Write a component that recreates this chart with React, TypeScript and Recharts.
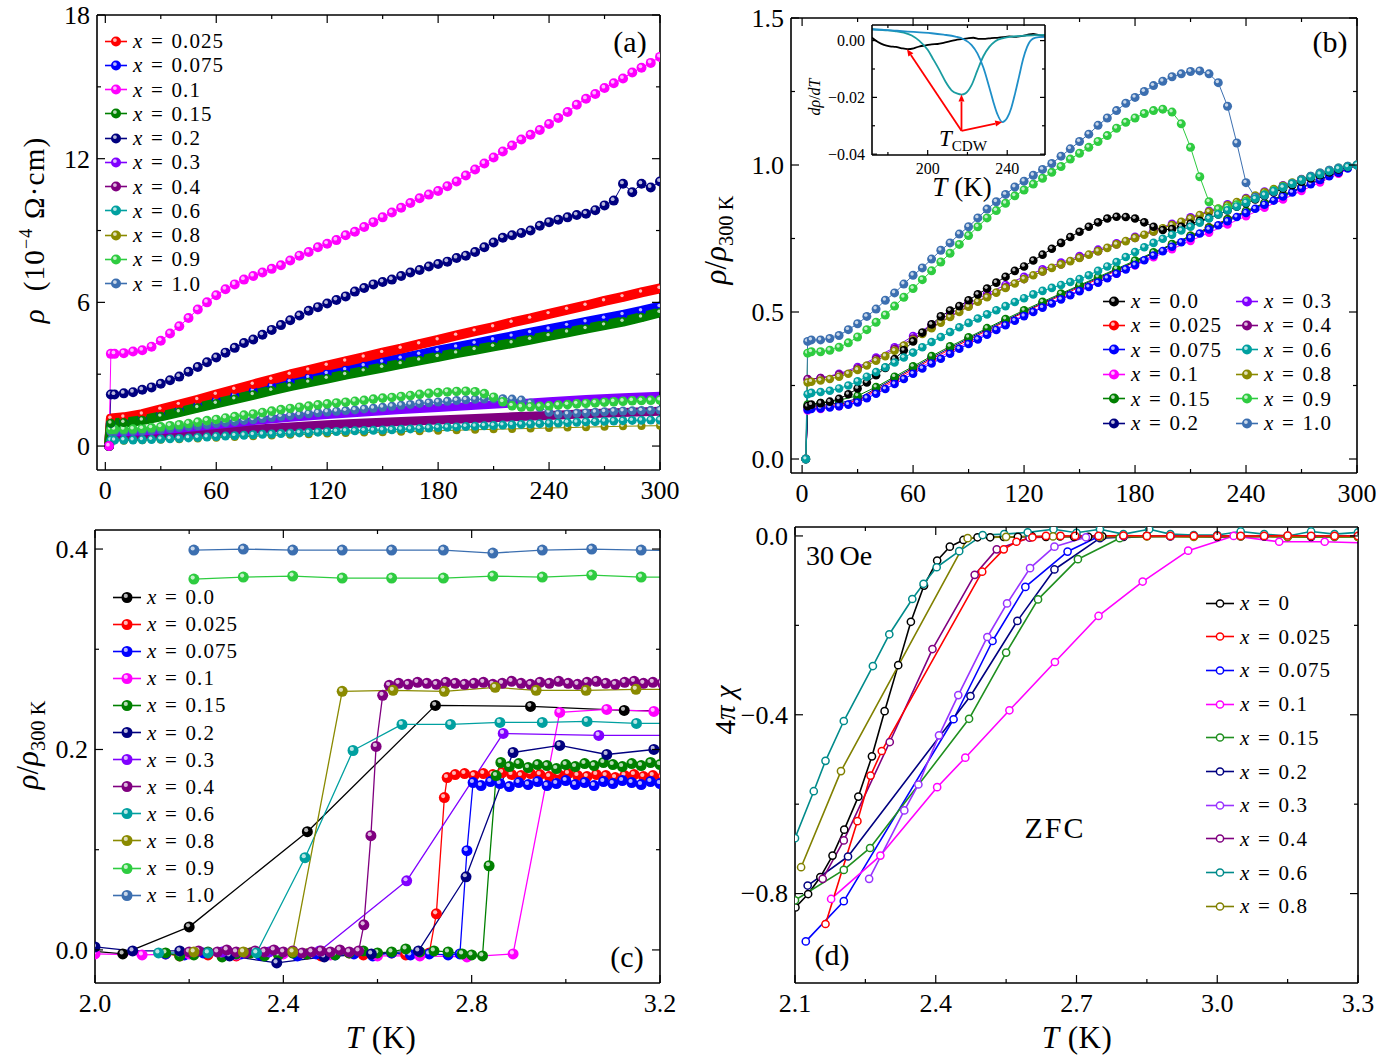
import React from 'react';
import { LineChart, Line, XAxis, YAxis, ReferenceLine } from 'recharts';

const FONT = "'Liberation Serif', 'Times New Roman', serif";

// =============================================================================
// Data: panels (a) and (b), rho(T) from 2 K to 300 K
// =============================================================================

const T5 = [2, 3, 5, 10, 15, 20, 25, 30, 35, 40, 45, 50, 55, 60, 65, 70, 75, 80, 85, 90, 95, 100, 105, 110, 115, 120, 125, 130, 135, 140, 145, 150, 155, 160, 165, 170, 175, 180, 185, 190, 195, 200, 205, 210, 215, 220, 225, 230, 235, 240, 245, 250, 255, 260, 265, 270, 275, 280, 285, 290, 295, 300];
const T10 = [2, 3, 10, 20, 30, 40, 50, 60, 70, 80, 90, 100, 110, 120, 130, 140, 150, 160, 170, 180, 190, 200, 210, 220, 230, 240, 250, 260, 270, 280, 290, 300];
const T20 = [2, 3, 20, 40, 60, 80, 100, 120, 140, 160, 180, 200, 220, 240, 260, 280, 300];

// (a) rho in 1e-4 Ohm cm
const aMag = [0, 3.85, 3.85, 3.88, 3.95, 4.0, 4.15, 4.4, 4.7, 5.0, 5.35, 5.7, 6.0, 6.3, 6.55, 6.75, 6.95, 7.1, 7.25, 7.4, 7.55, 7.75, 7.95, 8.1, 8.3, 8.45, 8.6, 8.8, 8.95, 9.15, 9.35, 9.55, 9.75, 9.95, 10.15, 10.35, 10.5, 10.65, 10.85, 11.05, 11.3, 11.55, 11.8, 12.05, 12.3, 12.55, 12.8, 13.0, 13.2, 13.45, 13.7, 13.95, 14.25, 14.5, 14.7, 14.95, 15.15, 15.35, 15.6, 15.8, 16.0, 16.25];
const aNavy = [0, 2.15, 2.15, 2.2, 2.25, 2.35, 2.45, 2.6, 2.75, 2.9, 3.1, 3.3, 3.5, 3.7, 3.9, 4.1, 4.3, 4.45, 4.65, 4.85, 5.05, 5.25, 5.45, 5.65, 5.8, 5.95, 6.1, 6.25, 6.45, 6.6, 6.75, 6.85, 6.95, 7.1, 7.25, 7.35, 7.5, 7.6, 7.7, 7.85, 7.95, 8.1, 8.3, 8.5, 8.7, 8.8, 8.9, 9.0, 9.2, 9.35, 9.45, 9.55, 9.65, 9.7, 9.85, 10.05, 10.25, 10.95, 10.6, 10.95, 10.8, 11.05];
const aGreen9 = [0, 0.69, 0.7, 0.7, 0.71, 0.73, 0.76, 0.8, 0.85, 0.89, 0.94, 1.0, 1.06, 1.11, 1.17, 1.23, 1.29, 1.34, 1.4, 1.46, 1.52, 1.57, 1.62, 1.67, 1.72, 1.76, 1.8, 1.83, 1.87, 1.91, 1.96, 2.0, 2.03, 2.07, 2.11, 2.16, 2.2, 2.23, 2.26, 2.28, 2.29, 2.27, 2.19, 2.04, 1.85, 1.68, 1.63, 1.64, 1.66, 1.68, 1.71, 1.73, 1.76, 1.78, 1.8, 1.83, 1.85, 1.87, 1.89, 1.9, 1.91, 1.92];
const aBlue1 = [0, 0.6, 0.61, 0.61, 0.62, 0.63, 0.66, 0.69, 0.73, 0.77, 0.81, 0.85, 0.89, 0.94, 0.98, 1.02, 1.07, 1.1, 1.15, 1.19, 1.23, 1.27, 1.31, 1.35, 1.39, 1.42, 1.45, 1.48, 1.51, 1.55, 1.58, 1.62, 1.66, 1.7, 1.74, 1.78, 1.81, 1.84, 1.87, 1.9, 1.93, 1.95, 1.96, 1.97, 1.98, 1.96, 1.92, 1.8, 1.61, 1.41, 1.33, 1.34, 1.37, 1.39, 1.41, 1.43, 1.45, 1.46, 1.47, 1.48, 1.49, 1.5];
const aTeal = [0, 0.24, 0.245, 0.25, 0.253, 0.26, 0.27, 0.29, 0.305, 0.32, 0.34, 0.36, 0.375, 0.395, 0.415, 0.435, 0.45, 0.47, 0.49, 0.505, 0.52, 0.535, 0.55, 0.565, 0.58, 0.595, 0.61, 0.625, 0.635, 0.645, 0.655, 0.667, 0.68, 0.7, 0.715, 0.73, 0.75, 0.77, 0.785, 0.8, 0.815, 0.83, 0.845, 0.86, 0.875, 0.89, 0.905, 0.92, 0.935, 0.95, 0.965, 0.98, 0.995, 1.01, 1.02, 1.035, 1.045, 1.06, 1.07, 1.075, 1.085, 1.09];
const aOlive = [0, 0.22, 0.225, 0.24, 0.26, 0.285, 0.315, 0.345, 0.38, 0.41, 0.44, 0.47, 0.495, 0.52, 0.54, 0.565, 0.58, 0.6, 0.62, 0.64, 0.66, 0.68, 0.7, 0.715, 0.735, 0.755, 0.77, 0.79, 0.81, 0.825, 0.84, 0.85];
const aRed = [0, 1.15, 1.2, 1.33, 1.53, 1.73, 1.93, 2.15, 2.36, 2.57, 2.78, 2.99, 3.17, 3.36, 3.54, 3.71, 3.9, 4.07, 4.26, 4.43, 4.62, 4.8, 4.97, 5.16, 5.33, 5.52, 5.7, 5.87, 6.06, 6.23, 6.42, 6.58];
const aBlue = [0, 0.95, 1.0, 1.12, 1.3, 1.5, 1.7, 1.9, 2.1, 2.3, 2.5, 2.68, 2.85, 3.02, 3.18, 3.34, 3.5, 3.66, 3.82, 3.98, 4.13, 4.28, 4.43, 4.58, 4.73, 4.88, 5.03, 5.18, 5.33, 5.48, 5.64, 5.82];
const aGreen = [0, 0.95, 0.98, 1.08, 1.24, 1.42, 1.6, 1.78, 1.96, 2.14, 2.32, 2.5, 2.66, 2.82, 2.98, 3.13, 3.28, 3.43, 3.58, 3.73, 3.88, 4.02, 4.16, 4.3, 4.45, 4.6, 4.75, 4.9, 5.05, 5.2, 5.38, 5.58];
const aViolet = [0, 0.57, 0.61, 0.72, 0.88, 1.04, 1.18, 1.3, 1.4, 1.5, 1.59, 1.68, 1.77, 1.87, 1.96, 2.04, 2.1];
const aPurple = [0, 0.39, 0.42, 0.49, 0.6, 0.7, 0.8, 0.89, 0.96, 1.03, 1.09, 1.15, 1.22, 1.28, 1.35, 1.4, 1.45];

// (b) rho / rho(300 K)
const bBlue1 = [0, 0.4, 0.405, 0.405, 0.41, 0.42, 0.44, 0.46, 0.485, 0.51, 0.54, 0.565, 0.595, 0.625, 0.65, 0.68, 0.71, 0.735, 0.765, 0.79, 0.82, 0.85, 0.875, 0.9, 0.925, 0.945, 0.965, 0.985, 1.005, 1.03, 1.055, 1.08, 1.105, 1.135, 1.16, 1.185, 1.21, 1.23, 1.25, 1.27, 1.285, 1.3, 1.31, 1.318, 1.32, 1.31, 1.28, 1.2, 1.075, 0.94, 0.89, 0.897, 0.91, 0.924, 0.937, 0.95, 0.962, 0.973, 0.982, 0.99, 0.996, 1.0];
const bGreen9 = [0, 0.36, 0.365, 0.365, 0.37, 0.38, 0.395, 0.415, 0.44, 0.465, 0.49, 0.52, 0.55, 0.58, 0.61, 0.64, 0.67, 0.7, 0.73, 0.76, 0.79, 0.82, 0.845, 0.87, 0.895, 0.915, 0.935, 0.955, 0.975, 0.995, 1.02, 1.04, 1.06, 1.08, 1.1, 1.125, 1.145, 1.16, 1.175, 1.185, 1.19, 1.18, 1.14, 1.06, 0.96, 0.875, 0.85, 0.855, 0.865, 0.877, 0.89, 0.9, 0.913, 0.926, 0.938, 0.95, 0.962, 0.973, 0.982, 0.99, 0.996, 1.0];
const bBlack = [0, 0.18, 0.185, 0.19, 0.195, 0.205, 0.22, 0.24, 0.26, 0.285, 0.31, 0.34, 0.37, 0.4, 0.43, 0.458, 0.485, 0.505, 0.52, 0.54, 0.56, 0.58, 0.6, 0.62, 0.64, 0.655, 0.675, 0.695, 0.715, 0.735, 0.755, 0.773, 0.79, 0.805, 0.818, 0.824, 0.823, 0.818, 0.805, 0.79, 0.779, 0.782, 0.79, 0.8, 0.81, 0.82, 0.832, 0.845, 0.858, 0.87, 0.883, 0.895, 0.907, 0.919, 0.931, 0.943, 0.954, 0.965, 0.975, 0.985, 0.993, 1.0];
const bOlive = [0, 0.26, 0.263, 0.267, 0.272, 0.28, 0.29, 0.303, 0.318, 0.334, 0.35, 0.368, 0.386, 0.405, 0.425, 0.445, 0.464, 0.483, 0.5, 0.518, 0.535, 0.55, 0.566, 0.582, 0.597, 0.612, 0.625, 0.638, 0.65, 0.662, 0.673, 0.684, 0.695, 0.707, 0.718, 0.73, 0.741, 0.752, 0.763, 0.774, 0.785, 0.796, 0.807, 0.818, 0.83, 0.841, 0.852, 0.863, 0.874, 0.885, 0.896, 0.907, 0.918, 0.929, 0.94, 0.951, 0.961, 0.971, 0.98, 0.988, 0.995, 1.0];
const bTeal = [0, 0.22, 0.225, 0.228, 0.232, 0.24, 0.25, 0.264, 0.28, 0.296, 0.312, 0.328, 0.345, 0.362, 0.38, 0.398, 0.415, 0.432, 0.448, 0.463, 0.478, 0.492, 0.506, 0.52, 0.534, 0.547, 0.56, 0.572, 0.582, 0.592, 0.602, 0.612, 0.625, 0.64, 0.655, 0.67, 0.687, 0.704, 0.72, 0.735, 0.749, 0.763, 0.777, 0.79, 0.804, 0.818, 0.832, 0.846, 0.859, 0.872, 0.885, 0.898, 0.911, 0.924, 0.936, 0.948, 0.959, 0.969, 0.979, 0.987, 0.994, 1.0];
const bBlue = [0, 0.168, 0.17, 0.172, 0.175, 0.18, 0.185, 0.192, 0.207, 0.222, 0.238, 0.255, 0.272, 0.29, 0.308, 0.325, 0.341, 0.358, 0.375, 0.391, 0.407, 0.423, 0.439, 0.455, 0.47, 0.486, 0.5, 0.515, 0.529, 0.543, 0.557, 0.571, 0.585, 0.6, 0.615, 0.63, 0.645, 0.66, 0.676, 0.692, 0.707, 0.722, 0.737, 0.752, 0.767, 0.781, 0.795, 0.809, 0.823, 0.837, 0.851, 0.865, 0.879, 0.893, 0.907, 0.921, 0.935, 0.949, 0.962, 0.975, 0.988, 1.0];
const bRed = [0, 0.175, 0.178, 0.185, 0.2, 0.235, 0.27, 0.305, 0.34, 0.373, 0.405, 0.437, 0.468, 0.499, 0.528, 0.556, 0.584, 0.612, 0.641, 0.67, 0.7, 0.73, 0.759, 0.788, 0.816, 0.843, 0.87, 0.897, 0.924, 0.95, 0.975, 1.0];
const bMag = [0, 0.165, 0.17, 0.18, 0.196, 0.23, 0.264, 0.298, 0.332, 0.365, 0.397, 0.428, 0.459, 0.489, 0.518, 0.546, 0.574, 0.602, 0.63, 0.658, 0.686, 0.714, 0.742, 0.77, 0.798, 0.826, 0.855, 0.883, 0.912, 0.941, 0.97, 1.0];
const bGreen = [0, 0.185, 0.19, 0.2, 0.215, 0.245, 0.28, 0.315, 0.35, 0.383, 0.414, 0.445, 0.476, 0.506, 0.535, 0.563, 0.591, 0.619, 0.647, 0.675, 0.703, 0.731, 0.759, 0.787, 0.815, 0.843, 0.871, 0.898, 0.925, 0.951, 0.976, 1.0];
const bNavy = [0, 0.178, 0.182, 0.19, 0.205, 0.24, 0.275, 0.31, 0.345, 0.378, 0.41, 0.441, 0.472, 0.502, 0.531, 0.56, 0.588, 0.616, 0.644, 0.672, 0.7, 0.728, 0.756, 0.784, 0.812, 0.84, 0.868, 0.896, 0.923, 0.95, 0.975, 1.0];
const bViolet = [0, 0.27, 0.275, 0.29, 0.313, 0.345, 0.38, 0.418, 0.457, 0.494, 0.529, 0.562, 0.592, 0.62, 0.645, 0.668, 0.69, 0.712, 0.734, 0.756, 0.778, 0.8, 0.822, 0.844, 0.866, 0.888, 0.91, 0.931, 0.952, 0.972, 0.987, 1.0];
const bPurple = [0, 0.272, 0.275, 0.287, 0.308, 0.34, 0.374, 0.41, 0.448, 0.485, 0.52, 0.553, 0.584, 0.612, 0.638, 0.662, 0.685, 0.707, 0.73, 0.752, 0.774, 0.796, 0.818, 0.84, 0.862, 0.884, 0.906, 0.928, 0.95, 0.97, 0.986, 1.0];

// inset of (b): d rho / dT
const insBlackT = [172, 175, 178, 181, 184, 187, 190, 193, 196, 199, 202, 205, 208, 211, 214, 217, 220, 223, 226, 229, 232, 235, 238, 241, 244, 247, 250, 253, 256, 259];
const insBlack = [0.001, -0.0005, -0.0015, -0.002, -0.0022, -0.0027, -0.003, -0.0027, -0.002, -0.0017, -0.0013, -0.0012, -0.0008, -0.0003, 0.0002, 0.0005, 0.0008, 0.001, 0.0006, 0.0006, 0.0009, 0.001, 0.0012, 0.0015, 0.0013, 0.0016, 0.002, 0.0024, 0.0019, 0.0015];
const insTealT = [172, 176, 180, 184, 188, 192, 196, 200, 203, 206, 209, 212, 215, 217, 219, 222, 225, 228, 231, 234, 238, 242, 246, 250, 254, 259];
const insTeal = [0.004, 0.0038, 0.0036, 0.0033, 0.0028, 0.0018, -0.0002, -0.0032, -0.0068, -0.0105, -0.0145, -0.0175, -0.0187, -0.019, -0.0186, -0.0158, -0.0105, -0.0055, -0.0022, -0.0002, 0.0009, 0.0014, 0.0016, 0.0018, 0.0019, 0.002];
const insBlueT = [172, 178, 184, 190, 196, 202, 208, 214, 218, 222, 225, 228, 231, 233, 235, 237.5, 240, 242, 244, 246, 248, 250, 253, 256, 259];
const insBlue = [0.004, 0.0038, 0.0035, 0.0032, 0.0029, 0.0026, 0.0021, 0.0014, 0.0005, -0.0015, -0.0045, -0.0095, -0.0165, -0.0215, -0.0258, -0.0287, -0.0272, -0.0238, -0.0185, -0.0125, -0.0065, -0.0022, 0.0007, 0.0012, 0.0013];
const cdwFromT = 217;
const cdwFromV = -0.0318;
const cdwMinT = [189.6, 217, 237.5];
const cdwMinV = [-0.003, -0.019, -0.0287];

// =============================================================================
// Data: panel (c), rho / rho(300 K) near Tc
// =============================================================================

const cBlackT = [1.9, 2.059, 2.2, 2.451, 2.723, 2.925, 3.124, 3.33];
const cBlack = [0.003, -0.004, 0.023, 0.118, 0.244, 0.243, 0.239, 0.238];
const cRedT = [2.15, 2.18, 2.21, 2.24, 2.27, 2.3, 2.33, 2.36, 2.39, 2.42, 2.45, 2.48, 2.51, 2.54, 2.57, 2.6, 2.63, 2.66, 2.69, 2.71, 2.725, 2.742, 2.748, 2.765, 2.785, 2.805, 2.825, 2.845, 2.865, 2.885, 2.905, 2.925, 2.945, 2.965, 2.985, 3.005, 3.025, 3.045, 3.065, 3.085, 3.105, 3.125, 3.145, 3.165, 3.185, 3.205];
const cRed = [-0.004, -0.006, -0.003, -0.005, -0.004, -0.006, -0.003, -0.004, -0.005, -0.003, -0.004, -0.006, -0.004, -0.003, -0.005, -0.004, -0.003, -0.005, -0.004, -0.003, 0.036, 0.152, 0.172, 0.175, 0.176, 0.174, 0.176, 0.175, 0.177, 0.175, 0.174, 0.176, 0.175, 0.173, 0.175, 0.176, 0.174, 0.173, 0.175, 0.174, 0.172, 0.174, 0.175, 0.173, 0.174, 0.172];
const cBlueT = [2.15, 2.19, 2.23, 2.27, 2.31, 2.35, 2.39, 2.43, 2.47, 2.51, 2.55, 2.59, 2.63, 2.67, 2.71, 2.75, 2.775, 2.79, 2.803, 2.82, 2.84, 2.86, 2.88, 2.9, 2.92, 2.94, 2.96, 2.98, 3.0, 3.02, 3.04, 3.06, 3.08, 3.1, 3.12, 3.14, 3.16, 3.18, 3.2];
const cBlue = [-0.004, -0.005, -0.003, -0.006, -0.004, -0.005, -0.003, -0.006, -0.004, -0.005, -0.004, -0.006, -0.003, -0.005, -0.004, -0.005, -0.004, 0.099, 0.167, 0.164, 0.168, 0.166, 0.163, 0.167, 0.165, 0.168, 0.164, 0.166, 0.169, 0.165, 0.167, 0.164, 0.168, 0.166, 0.169, 0.167, 0.165, 0.168, 0.166];
const cMagT = [1.95, 2.0, 2.1, 2.2, 2.3, 2.4, 2.5, 2.6, 2.69, 2.79, 2.888, 2.987, 3.087, 3.187, 3.29];
const cMag = [-0.004, -0.004, -0.005, -0.004, -0.005, -0.004, -0.005, -0.006, -0.006, -0.007, -0.004, 0.237, 0.24, 0.238, 0.238];
const cGreenT = [2.15, 2.18, 2.21, 2.24, 2.27, 2.3, 2.33, 2.36, 2.39, 2.42, 2.45, 2.48, 2.51, 2.54, 2.57, 2.6, 2.63, 2.66, 2.69, 2.72, 2.75, 2.78, 2.8, 2.823, 2.837, 2.852, 2.862, 2.88, 2.9, 2.92, 2.94, 2.96, 2.98, 3.0, 3.02, 3.04, 3.06, 3.08, 3.1, 3.12, 3.14, 3.16, 3.18, 3.2];
const cGreen = [-0.003, -0.006, -0.005, -0.002, -0.007, -0.004, -0.003, -0.006, -0.005, -0.003, -0.004, -0.002, -0.005, -0.003, -0.001, -0.003, -0.002, 0.001, -0.002, -0.001, -0.002, -0.004, -0.005, -0.006, 0.084, 0.174, 0.187, 0.183, 0.186, 0.182, 0.185, 0.184, 0.181, 0.185, 0.183, 0.186, 0.184, 0.187, 0.185, 0.183, 0.186, 0.184, 0.187, 0.185];
const cNavyT = [2.0, 2.08, 2.18, 2.286, 2.386, 2.487, 2.587, 2.687, 2.788, 2.888, 2.987, 3.087, 3.187, 3.29];
const cNavy = [0.003, -0.001, -0.001, -0.006, -0.013, -0.007, -0.004, -0.001, 0.073, 0.197, 0.204, 0.195, 0.2, 0.2];
const cVioletT = [2.27, 2.37, 2.477, 2.662, 2.867, 3.07, 3.27];
const cViolet = [-0.002, -0.002, -0.001, 0.069, 0.216, 0.214, 0.214];
const cPurpleT = [2.2, 2.22, 2.24, 2.26, 2.28, 2.3, 2.32, 2.34, 2.36, 2.38, 2.4, 2.42, 2.44, 2.46, 2.48, 2.5, 2.52, 2.54, 2.56, 2.571, 2.586, 2.597, 2.611, 2.625, 2.645, 2.665, 2.685, 2.705, 2.725, 2.745, 2.765, 2.785, 2.805, 2.825, 2.845, 2.865, 2.885, 2.905, 2.925, 2.945, 2.965, 2.985, 3.005, 3.025, 3.045, 3.065, 3.085, 3.105, 3.125, 3.145, 3.165, 3.185, 3.205];
const cPurple = [-0.002, -0.001, -0.003, -0.002, 0.0, -0.002, -0.003, -0.001, -0.002, 0.0, -0.002, -0.001, -0.003, -0.002, -0.001, -0.002, 0.0, -0.002, -0.001, 0.025, 0.114, 0.203, 0.254, 0.264, 0.266, 0.265, 0.267, 0.266, 0.265, 0.267, 0.266, 0.265, 0.266, 0.267, 0.265, 0.266, 0.268, 0.266, 0.265, 0.267, 0.266, 0.268, 0.266, 0.265, 0.267, 0.268, 0.266, 0.265, 0.267, 0.268, 0.266, 0.267, 0.266];
const cTealT = [2.135, 2.24, 2.343, 2.446, 2.548, 2.652, 2.755, 2.86, 2.95, 3.045, 3.15, 3.26];
const cTeal = [-0.003, -0.003, -0.003, 0.092, 0.199, 0.225, 0.225, 0.227, 0.227, 0.228, 0.226, 0.226];
const cOliveT = [2.21, 2.315, 2.42, 2.525, 2.633, 2.742, 2.85, 2.937, 3.043, 3.149, 3.26];
const cOlive = [-0.002, -0.002, -0.002, 0.258, 0.259, 0.258, 0.262, 0.259, 0.259, 0.26, 0.26];
const cHighT = [2.21, 2.315, 2.42, 2.525, 2.63, 2.74, 2.845, 2.95, 3.055, 3.16, 3.265];
const cGreen9 = [0.37, 0.372, 0.373, 0.371, 0.371, 0.371, 0.373, 0.372, 0.374, 0.372, 0.372];
const cBlue1 = [0.399, 0.4, 0.399, 0.399, 0.399, 0.399, 0.396, 0.399, 0.4, 0.399, 0.398];

// =============================================================================
// Data: panel (d), ZFC susceptibility 4 pi chi
// =============================================================================

const dBlackT = [2.101, 2.128, 2.154, 2.18, 2.205, 2.235, 2.264, 2.291, 2.32, 2.347, 2.375, 2.403, 2.43, 2.459, 2.489, 2.516, 2.545, 2.575, 2.605, 2.635, 2.665, 2.695, 2.725, 2.755, 2.8, 2.9, 3.0, 3.1, 3.2, 3.3];
const dBlack = [-0.831, -0.801, -0.763, -0.715, -0.657, -0.583, -0.493, -0.392, -0.289, -0.192, -0.111, -0.055, -0.024, -0.009, -0.003, -0.003, -0.002, -0.002, -0.001, -0.002, -0.001, -0.002, -0.002, -0.001, -0.002, -0.001, -0.002, -0.001, -0.002, -0.001];
const dRedT = [2.165, 2.233, 2.261, 2.285, 2.499, 2.545, 2.572, 2.606, 2.635, 2.666, 2.697, 2.747, 2.8, 2.85, 2.9, 2.95, 3.0, 3.05, 3.1, 3.15, 3.2, 3.25, 3.3];
const dRed = [-0.868, -0.638, -0.536, -0.481, -0.08, -0.03, -0.013, -0.003, 0.0, 0.0, 0.0, 0.0, 0.001, 0.0, 0.0, 0.0, 0.0, 0.0, 0.0, 0.001, 0.0, 0.0, 0.0];
const dBlueT = [2.123, 2.204, 2.438, 2.521, 2.591, 2.681, 2.746, 2.8, 2.9, 3.0, 3.1, 3.2, 3.3];
const dBlue = [-0.907, -0.817, -0.41, -0.235, -0.114, -0.035, -0.002, 0.0, 0.0, 0.0, 0.0, 0.0, 0.0];
const dMagT = [2.177, 2.282, 2.403, 2.463, 2.557, 2.654, 2.747, 2.841, 2.938, 3.035, 3.132, 3.229, 3.33];
const dMag = [-0.812, -0.715, -0.562, -0.496, -0.39, -0.282, -0.179, -0.102, -0.033, 0.0, -0.013, -0.013, -0.016];
const dGreenT = [2.06, 2.1, 2.204, 2.26, 2.471, 2.55, 2.618, 2.703, 2.792, 2.85, 2.95, 3.05, 3.15, 3.25, 3.3];
const dGreen = [-0.835, -0.815, -0.747, -0.698, -0.409, -0.261, -0.142, -0.052, -0.005, 0.0, 0.0, 0.0, -0.002, -0.002, -0.002];
const dNavyT = [2.127, 2.213, 2.474, 2.574, 2.653, 2.75, 2.85, 2.95, 3.05, 3.15, 3.25, 3.3];
const dNavy = [-0.782, -0.717, -0.358, -0.19, -0.075, -0.005, 0.0, 0.0, -0.001, 0.0, 0.0, 0.0];
const dVioletT = [2.258, 2.333, 2.363, 2.407, 2.448, 2.51, 2.552, 2.601, 2.653, 2.72, 2.8, 2.9, 3.0, 3.1, 3.2, 3.3];
const dViolet = [-0.767, -0.614, -0.556, -0.446, -0.356, -0.226, -0.151, -0.072, -0.024, -0.003, 0.0, 0.0, 0.0, 0.0, 0.0, 0.0];
const dPurpleT = [2.159, 2.204, 2.302, 2.393, 2.483, 2.53, 2.6, 2.7, 2.8, 2.9, 3.0, 3.1, 3.2, 3.3];
const dPurple = [-0.767, -0.681, -0.461, -0.253, -0.087, -0.03, -0.004, 0.0, 0.0, 0.0, 0.0, 0.0, 0.0, 0.0];
const dTealT = [2.062, 2.1, 2.14, 2.165, 2.204, 2.266, 2.301, 2.35, 2.374, 2.402, 2.45, 2.5, 2.546, 2.596, 2.651, 2.7, 2.75, 2.8, 2.855, 2.9, 2.95, 3.0, 3.05, 3.1, 3.15, 3.2, 3.25, 3.3];
const dTeal = [-0.775, -0.676, -0.571, -0.503, -0.414, -0.291, -0.22, -0.141, -0.107, -0.07, -0.034, 0.002, 0.004, 0.008, 0.015, 0.007, 0.015, 0.004, 0.015, 0.004, 0.002, 0.002, 0.01, 0.004, 0.0, 0.01, 0.004, 0.008];
const dOliveT = [2.113, 2.198, 2.468, 2.55, 2.65, 2.75, 2.85, 2.95, 3.05, 3.15, 3.25, 3.3];
const dOlive = [-0.741, -0.526, -0.005, -0.002, -0.001, -0.002, -0.001, -0.002, -0.001, -0.002, -0.001, -0.002];

// =============================================================================
// Styling
// =============================================================================

const COL: Record<string, string> = {
  '0.0': '#000000', '0.025': '#ff0000', '0.075': '#0000ff', '0.1': '#ff00ff',
  '0.15': '#008000', '0.2': '#000080', '0.3': '#8000ff', '0.4': '#800080',
  '0.6': '#00a0a0', '0.8': '#8a8a00', '0.9': '#2ecc40', '1.0': '#3c6fb0',
};
const COLD: Record<string, string> = {
  '0': '#000000', '0.025': '#ff0000', '0.075': '#0000ff', '0.1': '#ff00ff',
  '0.15': '#1f8f1f', '0.2': '#000080', '0.3': '#9933ff', '0.4': '#800080',
  '0.6': '#008b8b', '0.8': '#808000',
};

const rows = (T: number[], v: number[]) => T.map((t, i) => ({ T: t, v: v[i] }));
const AX = { stroke: '#000', strokeWidth: 1.6 };

type Ser = { k: string; T: number[]; v: number[]; color: string; kind: 'bead' | 'band' | 'open' | 'smooth'; r?: number; w?: number };

function Ball({ cx, cy, r, color }: any) {
  if (cx == null || cy == null || isNaN(cx) || isNaN(cy)) return <g />;
  return (
    <g>
      <circle cx={cx} cy={cy} r={r} fill={color} />
      <circle cx={cx - r * 0.22} cy={cy - r * 0.28} r={r * 0.38} fill="#fff" fillOpacity={0.72} />
    </g>
  );
}

function mkTick(side: string, majors: number[], fmt: ((v: number) => string) | null, fs: number, big = 8, small = 4) {
  return (p: any) => {
    const { x, y, payload } = p;
    const v = payload ? payload.value : 0;
    const major = majors.some((m) => Math.abs(m - v) < 1e-9);
    const L = major ? big : small;
    let x2 = x;
    let y2 = y;
    let label = null;
    if (side === 'bottom') {
      y2 = y - L;
      if (fmt && major) label = <text x={x} y={y + fs + 3} textAnchor="middle" fontSize={fs} fontFamily={FONT} fill="#000">{fmt(v)}</text>;
    } else if (side === 'top') {
      y2 = y + L;
    } else if (side === 'left') {
      x2 = x + L;
      if (fmt && major) label = <text x={x - 7} y={y + fs * 0.34} textAnchor="end" fontSize={fs} fontFamily={FONT} fill="#000">{fmt(v)}</text>;
    } else {
      x2 = x - L;
    }
    return (
      <g>
        <line x1={x} y1={y} x2={x2} y2={y2} stroke="#000" strokeWidth={1.2} />
        {label}
      </g>
    );
  };
}

function renderSeries(s: Ser) {
  const common = {
    key: s.k, xAxisId: 'b', yAxisId: 'l', data: rows(s.T, s.v), dataKey: 'v', type: 'linear' as const,
    stroke: s.color, activeDot: false, isAnimationActive: false, strokeLinejoin: 'round' as const, strokeLinecap: 'round' as const,
  };
  if (s.kind === 'band') {
    return <Line {...common} strokeWidth={s.w || 9} dot={s.r ? (p: any) => <Ball key={p.index} cx={p.cx} cy={p.cy} r={s.r} color={s.color} /> : false} />;
  }
  if (s.kind === 'open') {
    return <Line {...common} strokeWidth={1.6} dot={{ r: 3.6, fill: '#fff', stroke: s.color, strokeWidth: 1.5 }} />;
  }
  if (s.kind === 'smooth') {
    return <Line {...common} type="monotone" strokeWidth={1.8} dot={false} />;
  }
  return <Line {...common} strokeWidth={s.w || 1} dot={(p: any) => <Ball key={p.index} cx={p.cx} cy={p.cy} r={s.r || 4.5} color={s.color} />} />;
}

// margin is the wanted plot box; each axis takes a 1px band outside it
function Panel({ width, height, margin, xDom, yDom, xMaj, xMin, yMaj, yMin, xFmt, yFmt, series, fs = 26, big = 8, small = 4, children }: any) {
  const xt = [...xMaj, ...xMin].sort((a: number, b: number) => a - b);
  const yt = [...yMaj, ...yMin].sort((a: number, b: number) => a - b);
  const m = { top: margin.top - 1, right: margin.right - 1, bottom: margin.bottom - 1, left: margin.left - 1 };
  const axisCommon = { type: 'number' as const, allowDataOverflow: true, interval: 0 as const, tickSize: 0, tickMargin: 0, tickLine: false, axisLine: AX };
  return (
    <LineChart width={width} height={height} margin={m}>
      <XAxis {...axisCommon} xAxisId="b" orientation="bottom" dataKey="T" domain={xDom} ticks={xt} height={1} tick={mkTick('bottom', xMaj, xFmt, fs, big, small)} />
      <XAxis {...axisCommon} xAxisId="t" orientation="top" dataKey="T" domain={xDom} ticks={xt} height={1} tick={mkTick('top', xMaj, null, fs, big, small)} />
      <YAxis {...axisCommon} yAxisId="l" orientation="left" domain={yDom} ticks={yt} width={1} tick={mkTick('left', yMaj, yFmt, fs, big, small)} />
      <YAxis {...axisCommon} yAxisId="r" orientation="right" domain={yDom} ticks={yt} width={1} tick={mkTick('right', yMaj, null, fs, big, small)} />
      {series.map((s: Ser) => renderSeries(s))}
      {children}
    </LineChart>
  );
}

function Arrow(p: any) {
  const { x1, y1, x2, y2 } = p;
  if ([x1, y1, x2, y2].some((q) => q == null || isNaN(q))) return <g />;
  const a = Math.atan2(y2 - y1, x2 - x1);
  const h = 7;
  const w = 3;
  const bx = x2 - h * Math.cos(a);
  const by = y2 - h * Math.sin(a);
  const pts = `${x2},${y2} ${bx - w * Math.sin(a)},${by + w * Math.cos(a)} ${bx + w * Math.sin(a)},${by - w * Math.cos(a)}`;
  return (
    <g>
      <line x1={x1} y1={y1} x2={bx} y2={by} stroke="#ff0000" strokeWidth={1.8} />
      <polygon points={pts} fill="#ff0000" />
    </g>
  );
}

function Txt({ x, y, size, rotate = 0, align = 'center', spacing = 0, children }: any) {
  const tx = align === 'center' ? '-50%' : align === 'left' ? '0%' : '-100%';
  return (
    <div style={{ position: 'absolute', left: x, top: y, fontSize: size, lineHeight: 1, whiteSpace: 'nowrap', letterSpacing: spacing, transform: `translate(${tx}, -50%) rotate(${rotate}deg)` }}>
      {children}
    </div>
  );
}

function LegendCol({ items, x, y0, dy, fs, lineLen, open = false, r = 5 }: any) {
  return (
    <>
      {items.map((it: any, i: number) => (
        <div key={it.k} style={{ position: 'absolute', left: x, top: y0 + i * dy, transform: 'translateY(-50%)', display: 'flex', alignItems: 'center', whiteSpace: 'nowrap', fontSize: fs, lineHeight: 1 }}>
          <svg width={lineLen} height={16} style={{ overflow: 'visible' }}>
            <line x1={0} y1={8} x2={lineLen} y2={8} stroke={it.color} strokeWidth={1.6} />
            {open
              ? <circle cx={lineLen / 2} cy={8} r={3.6} fill="#fff" stroke={it.color} strokeWidth={1.5} />
              : <Ball cx={lineLen / 2} cy={8} r={r} color={it.color} />}
          </svg>
          <span style={{ marginLeft: 6, letterSpacing: 1.1 }}>
            <i>x</i><span style={{ margin: '0 0.36em' }}>=</span>{it.k}
          </span>
        </div>
      ))}
    </>
  );
}

const sup = { fontSize: '0.62em', verticalAlign: '0.7em' };
const sub = { fontSize: '0.66em', verticalAlign: '-0.35em' };

// =============================================================================
// App
// =============================================================================

export default function App() {
  const c = (k: string) => COL[k];

  const serA: Ser[] = [
    { k: '0.4', T: T20, v: aPurple, color: c('0.4'), kind: 'band', w: 9 },
    { k: '0.3', T: T20, v: aViolet, color: c('0.3'), kind: 'band', w: 8 },
    { k: '0.8', T: T10, v: aOlive, color: c('0.8'), kind: 'bead', r: 4 },
    { k: '1.0', T: T5, v: aBlue1, color: c('1.0'), kind: 'bead', r: 4.5 },
    { k: '0.6', T: T5, v: aTeal, color: c('0.6'), kind: 'bead', r: 4.5 },
    { k: '0.9', T: T5, v: aGreen9, color: c('0.9'), kind: 'bead', r: 4.8 },
    { k: '0.075', T: T10, v: aBlue, color: c('0.075'), kind: 'band', w: 10, r: 4.5 },
    { k: '0.025', T: T10, v: aRed, color: c('0.025'), kind: 'band', w: 10, r: 4.5 },
    { k: '0.15', T: T10, v: aGreen, color: c('0.15'), kind: 'band', w: 10, r: 4.5 },
    { k: '0.2', T: T5, v: aNavy, color: c('0.2'), kind: 'bead', r: 5 },
    { k: '0.1', T: T5, v: aMag, color: c('0.1'), kind: 'bead', r: 5 },
  ];
  const legA = ['0.025', '0.075', '0.1', '0.15', '0.2', '0.3', '0.4', '0.6', '0.8', '0.9', '1.0'].map((k) => ({ k, color: c(k) }));

  const serB: Ser[] = [
    { k: '0.1', T: T10, v: bMag, color: c('0.1'), kind: 'bead', r: 4.3 },
    { k: '0.025', T: T10, v: bRed, color: c('0.025'), kind: 'bead', r: 4.3 },
    { k: '0.2', T: T10, v: bNavy, color: c('0.2'), kind: 'bead', r: 4.3 },
    { k: '0.15', T: T10, v: bGreen, color: c('0.15'), kind: 'bead', r: 4.3 },
    { k: '0.075', T: T5, v: bBlue, color: c('0.075'), kind: 'bead', r: 4.3 },
    { k: '0.3', T: T10, v: bViolet, color: c('0.3'), kind: 'bead', r: 4.3 },
    { k: '0.4', T: T10, v: bPurple, color: c('0.4'), kind: 'bead', r: 4.3 },
    { k: '0.8', T: T5, v: bOlive, color: c('0.8'), kind: 'bead', r: 4.3 },
    { k: '0.0', T: T5, v: bBlack, color: c('0.0'), kind: 'bead', r: 4.3 },
    { k: '0.9', T: T5, v: bGreen9, color: c('0.9'), kind: 'bead', r: 4.5 },
    { k: '1.0', T: T5, v: bBlue1, color: c('1.0'), kind: 'bead', r: 4.5 },
    { k: '0.6', T: T5, v: bTeal, color: c('0.6'), kind: 'bead', r: 4.3 },
  ];
  const legB1 = ['0.0', '0.025', '0.075', '0.1', '0.15', '0.2'].map((k) => ({ k, color: c(k) }));
  const legB2 = ['0.3', '0.4', '0.6', '0.8', '0.9', '1.0'].map((k) => ({ k, color: c(k) }));

  const serIns: Ser[] = [
    { k: 'blk', T: insBlackT, v: insBlack, color: '#000000', kind: 'smooth' },
    { k: 'teal', T: insTealT, v: insTeal, color: '#1a9ca0', kind: 'smooth' },
    { k: 'blue', T: insBlueT, v: insBlue, color: '#1f8fc8', kind: 'smooth' },
  ];

  const serC: Ser[] = [
    { k: '0.0', T: cBlackT, v: cBlack, color: c('0.0'), kind: 'bead', r: 5.5, w: 1.3 },
    { k: '0.025', T: cRedT, v: cRed, color: c('0.025'), kind: 'bead', r: 5.5, w: 1.3 },
    { k: '0.075', T: cBlueT, v: cBlue, color: c('0.075'), kind: 'bead', r: 5.5, w: 1.3 },
    { k: '0.1', T: cMagT, v: cMag, color: c('0.1'), kind: 'bead', r: 5.5, w: 1.3 },
    { k: '0.15', T: cGreenT, v: cGreen, color: c('0.15'), kind: 'bead', r: 5.5, w: 1.3 },
    { k: '0.2', T: cNavyT, v: cNavy, color: c('0.2'), kind: 'bead', r: 5.5, w: 1.3 },
    { k: '0.3', T: cVioletT, v: cViolet, color: c('0.3'), kind: 'bead', r: 5.5, w: 1.3 },
    { k: '0.4', T: cPurpleT, v: cPurple, color: c('0.4'), kind: 'bead', r: 5.5, w: 1.3 },
    { k: '0.6', T: cTealT, v: cTeal, color: c('0.6'), kind: 'bead', r: 5.5, w: 1.3 },
    { k: '0.8', T: cOliveT, v: cOlive, color: c('0.8'), kind: 'bead', r: 5.5, w: 1.3 },
    { k: '0.9', T: cHighT, v: cGreen9, color: c('0.9'), kind: 'bead', r: 5.5, w: 1.3 },
    { k: '1.0', T: cHighT, v: cBlue1, color: c('1.0'), kind: 'bead', r: 5.5, w: 1.3 },
  ];
  const legC = ['0.0', '0.025', '0.075', '0.1', '0.15', '0.2', '0.3', '0.4', '0.6', '0.8', '0.9', '1.0'].map((k) => ({ k, color: c(k) }));

  const serD: Ser[] = [
    { k: '0', T: dBlackT, v: dBlack, color: COLD['0'], kind: 'open' },
    { k: '0.075', T: dBlueT, v: dBlue, color: COLD['0.075'], kind: 'open' },
    { k: '0.1', T: dMagT, v: dMag, color: COLD['0.1'], kind: 'open' },
    { k: '0.15', T: dGreenT, v: dGreen, color: COLD['0.15'], kind: 'open' },
    { k: '0.2', T: dNavyT, v: dNavy, color: COLD['0.2'], kind: 'open' },
    { k: '0.3', T: dVioletT, v: dViolet, color: COLD['0.3'], kind: 'open' },
    { k: '0.4', T: dPurpleT, v: dPurple, color: COLD['0.4'], kind: 'open' },
    { k: '0.6', T: dTealT, v: dTeal, color: COLD['0.6'], kind: 'open' },
    { k: '0.8', T: dOliveT, v: dOlive, color: COLD['0.8'], kind: 'open' },
    { k: '0.025', T: dRedT, v: dRed, color: COLD['0.025'], kind: 'open' },
  ];
  const legD = ['0', '0.025', '0.075', '0.1', '0.15', '0.2', '0.3', '0.4', '0.6', '0.8'].map((k) => ({ k, color: COLD[k] }));

  const neg = (d: number) => (v: number) => (Math.abs(v) < 1e-12 ? (0).toFixed(d) : (v < 0 ? '\u2212' : '') + Math.abs(v).toFixed(d));

  return (
    <div style={{ position: 'absolute', left: 0, top: 0, width: 1380, height: 1055, background: '#fff', fontFamily: FONT, color: '#000', overflow: 'hidden' }}>
      {/* (a) */}
      <div style={{ position: 'absolute', left: 0, top: 0 }}>
        <Panel width={700} height={520} margin={{ top: 15, right: 40, bottom: 50, left: 97 }}
          xDom={[-4.5, 300]} yDom={[-1, 18]} xMaj={[0, 60, 120, 180, 240, 300]} xMin={[30, 90, 150, 210, 270]}
          yMaj={[0, 6, 12, 18]} yMin={[3, 9, 15]} xFmt={(v: number) => String(v)} yFmt={(v: number) => String(v)} series={serA} />
      </div>
      {/* (b) */}
      <div style={{ position: 'absolute', left: 700, top: 0 }}>
        <Panel width={680} height={520} margin={{ top: 18, right: 23, bottom: 47, left: 91 }}
          xDom={[-6, 300]} yDom={[-0.0476, 1.5]} xMaj={[0, 60, 120, 180, 240, 300]} xMin={[30, 90, 150, 210, 270]}
          yMaj={[0, 0.5, 1, 1.5]} yMin={[0.25, 0.75, 1.25]} xFmt={(v: number) => String(v)} yFmt={(v: number) => v.toFixed(1)} series={serB} />
      </div>
      {/* inset of (b) */}
      <div style={{ position: 'absolute', left: 800, top: 15 }}>
        <Panel width={260} height={180} margin={{ top: 10, right: 15, bottom: 40, left: 72 }}
          xDom={[172, 259]} yDom={[-0.0403, 0.0055]} xMaj={[200, 240]} xMin={[180, 220]}
          yMaj={[-0.04, -0.02, 0]} yMin={[-0.03, -0.01]} xFmt={(v: number) => String(v)} yFmt={neg(2)} series={serIns} fs={16} big={5} small={3}>
          {cdwMinT.map((t, i) => (
            <ReferenceLine key={`cdw${i}`} xAxisId="b" yAxisId="l" ifOverflow="visible" stroke="#ff0000"
              segment={[{ x: cdwFromT, y: cdwFromV }, { x: t, y: cdwMinV[i] }]} shape={Arrow} />
          ))}
        </Panel>
      </div>
      {/* (c) */}
      <div style={{ position: 'absolute', left: 0, top: 520 }}>
        <Panel width={700} height={535} margin={{ top: 10, right: 40, bottom: 72, left: 95 }}
          xDom={[2.0, 3.2]} yDom={[-0.033, 0.419]} xMaj={[2.0, 2.4, 2.8, 3.2]} xMin={[2.2, 2.6, 3.0]}
          yMaj={[0, 0.2, 0.4]} yMin={[0.1, 0.3]} xFmt={(v: number) => v.toFixed(1)} yFmt={(v: number) => v.toFixed(1)} series={serC} />
      </div>
      {/* (d) */}
      <div style={{ position: 'absolute', left: 700, top: 520 }}>
        <Panel width={680} height={535} margin={{ top: 7, right: 22, bottom: 72, left: 95 }}
          xDom={[2.1, 3.3]} yDom={[-1.0, 0.02]} xMaj={[2.1, 2.4, 2.7, 3.0, 3.3]} xMin={[2.25, 2.55, 2.85, 3.15]}
          yMaj={[-0.8, -0.4, 0]} yMin={[-0.6, -0.2]} xFmt={(v: number) => v.toFixed(1)} yFmt={neg(1)} series={serD} />
      </div>

      {/* legends */}
      <LegendCol items={legA} x={105} y0={41} dy={24.25} fs={21} lineLen={22} r={5} />
      <LegendCol items={legB1} x={1103} y0={301} dy={24.4} fs={21} lineLen={22} r={5} />
      <LegendCol items={legB2} x={1236} y0={301} dy={24.4} fs={21} lineLen={22} r={5} />
      <LegendCol items={legC} x={113} y0={597} dy={27.1} fs={21} lineLen={28} r={5.5} />
      <LegendCol items={legD} x={1206} y0={603} dy={33.7} fs={21} lineLen={28} open />

      {/* axis titles */}
      <Txt x={33} y={230} size={29} spacing={1.2} rotate={-90}><i>ρ</i>&nbsp;&nbsp;(10<span style={sup}>−4</span>&nbsp;Ω·cm)</Txt>
      <Txt x={718} y={240} size={31} rotate={-90}><i>ρ</i>/<i>ρ</i><span style={sub}>300&nbsp;K</span></Txt>
      <Txt x={30} y={745} size={31} rotate={-90}><i>ρ</i>/<i>ρ</i><span style={sub}>300&nbsp;K</span></Txt>
      <Txt x={725} y={710} size={29} rotate={-90}>4<i>π</i>&nbsp;<i>χ</i></Txt>
      <Txt x={381} y={1037} size={31} spacing={0.5}><i>T</i>&nbsp;(K)</Txt>
      <Txt x={1077} y={1037} size={31} spacing={0.5}><i>T</i>&nbsp;(K)</Txt>

      {/* inset texts */}
      <Txt x={962} y={187} size={27}><i>T</i>&nbsp;(K)</Txt>
      <Txt x={963} y={140} size={23}><i>T</i><span style={sub}>CDW</span></Txt>
      <Txt x={815} y={97} size={16} rotate={-90}><i>dρ</i>/<i>dT</i></Txt>

      {/* panel marks */}
      <Txt x={630} y={42} size={30}>(a)</Txt>
      <Txt x={1330} y={42} size={30}>(b)</Txt>
      <Txt x={627} y={957} size={30}>(c)</Txt>
      <Txt x={832} y={955} size={30}>(d)</Txt>
      <Txt x={806} y={556} size={28} align="left">30&thinsp;Oe</Txt>
      <Txt x={1055} y={828} size={30} spacing={2}>ZFC</Txt>
    </div>
  );
}
